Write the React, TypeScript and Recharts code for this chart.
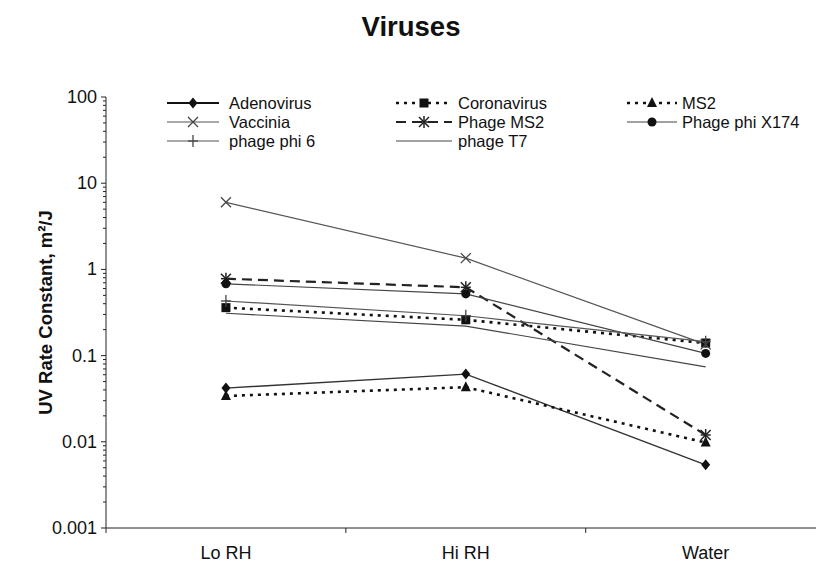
import React from 'react';
import { LineChart, Line, XAxis, YAxis, Legend } from 'recharts';

const categories = ['Lo RH', 'Hi RH', 'Water'];

const adenovirus = [0.042, 0.061, 0.0054];
const coronavirus = [0.36, 0.26, 0.14];
const ms2 = [0.034, 0.043, 0.0098];
const vaccinia = [6.0, 1.35, 0.135];
const phageMS2 = [0.78, 0.62, 0.012];
const phageX174 = [0.68, 0.52, 0.106];
const phagePhi6 = [0.43, 0.29, 0.145];
const phageT7 = [0.31, 0.22, 0.074];

const decades = [0.001, 0.01, 0.1, 1, 10, 100];
const decadeLabels = ['0.001', '0.01', '0.1', '1', '10', '100'];

type Shape = 'diamond' | 'square' | 'triangle' | 'cross' | 'asterisk' | 'circle' | 'plus' | 'none';

interface SeriesDef {
  key: string;
  name: string;
  values: number[];
  shape: Shape;
  stroke: string;
  width: number;
  dash?: string;
}

const series: SeriesDef[] = [
  { key: 'adenovirus', name: 'Adenovirus', values: adenovirus, shape: 'diamond', stroke: '#333', width: 1.4 },
  { key: 'coronavirus', name: 'Coronavirus', values: coronavirus, shape: 'square', stroke: '#111', width: 2.6, dash: '3 5' },
  { key: 'ms2', name: 'MS2', values: ms2, shape: 'triangle', stroke: '#111', width: 2.6, dash: '3 5' },
  { key: 'vaccinia', name: 'Vaccinia', values: vaccinia, shape: 'cross', stroke: '#555', width: 1.2 },
  { key: 'phageMS2', name: 'Phage MS2', values: phageMS2, shape: 'asterisk', stroke: '#222', width: 2.2, dash: '10 6' },
  { key: 'phageX174', name: 'Phage phi X174', values: phageX174, shape: 'circle', stroke: '#444', width: 1.2 },
  { key: 'phagePhi6', name: 'phage phi 6', values: phagePhi6, shape: 'plus', stroke: '#555', width: 1.2 },
  { key: 'phageT7', name: 'phage T7', values: phageT7, shape: 'none', stroke: '#444', width: 1.2 },
];

const data = categories.map((name, i) => {
  const row: Record<string, number | string> = { x: i, name };
  series.forEach((s) => {
    row[s.key] = s.values[i];
  });
  return row;
});

const yTicks: number[] = [];
decades.forEach((d, i) => {
  yTicks.push(d);
  if (i < decades.length - 1) {
    for (let m = 2; m <= 9; m++) yTicks.push(d * m);
  }
});

const FONT = '"Liberation Sans", Arial, Helvetica, sans-serif';

const Marker = ({ shape, cx, cy }: { shape: Shape; cx: number; cy: number }) => {
  switch (shape) {
    case 'diamond':
      return <polygon points={`${cx},${cy - 5.5} ${cx + 4.5},${cy} ${cx},${cy + 5.5} ${cx - 4.5},${cy}`} fill="#111" />;
    case 'square':
      return <rect x={cx - 4.5} y={cy - 4.5} width={9} height={9} fill="#111" />;
    case 'triangle':
      return <polygon points={`${cx},${cy - 6} ${cx + 5},${cy + 4} ${cx - 5},${cy + 4}`} fill="#111" />;
    case 'circle':
      return <circle cx={cx} cy={cy} r={4.5} fill="#111" />;
    case 'cross':
      return (
        <g stroke="#444" strokeWidth={1.3}>
          <line x1={cx - 5} y1={cy - 5} x2={cx + 5} y2={cy + 5} />
          <line x1={cx - 5} y1={cy + 5} x2={cx + 5} y2={cy - 5} />
        </g>
      );
    case 'asterisk':
      return (
        <g stroke="#222" strokeWidth={1.5}>
          <line x1={cx - 5} y1={cy - 5} x2={cx + 5} y2={cy + 5} />
          <line x1={cx - 5} y1={cy + 5} x2={cx + 5} y2={cy - 5} />
          <line x1={cx - 5} y1={cy} x2={cx + 5} y2={cy} />
          <line x1={cx} y1={cy - 6} x2={cx} y2={cy + 6} />
        </g>
      );
    case 'plus':
      return (
        <g stroke="#444" strokeWidth={1.3}>
          <line x1={cx} y1={cy - 6} x2={cx} y2={cy + 6} />
          <line x1={cx - 5} y1={cy} x2={cx + 5} y2={cy} />
        </g>
      );
    default:
      return null;
  }
};

const XTick = (props: any) => {
  const { x, y, payload } = props;
  const v = payload.value as number;
  if (Number.isInteger(v)) {
    return (
      <text x={x} y={y + 31} textAnchor="middle" fontSize={18} fontFamily={FONT} fill="#111">
        {categories[v]}
      </text>
    );
  }
  return <line x1={x} x2={x} y1={y} y2={y + 5} stroke="#222" />;
};

const YTick = (props: any) => {
  const { x, y, payload } = props;
  const v = payload.value as number;
  const idx = decades.findIndex((d) => Math.abs(d - v) / d < 1e-6);
  if (idx >= 0) {
    return (
      <g>
        <line x1={x - 5} x2={x} y1={y} y2={y} stroke="#222" />
        <text x={x - 9} y={y} dy={6} textAnchor="end" fontSize={18} fontFamily={FONT} fill="#111">
          {decadeLabels[idx]}
        </text>
      </g>
    );
  }
  return <line x1={x - 3} x2={x} y1={y} y2={y} stroke="#222" />;
};

const legendCols = [
  { x1: 7, x2: 59, tx: 69 },
  { x1: 236, x2: 292, tx: 298 },
  { x1: 467, x2: 517, tx: 522 },
];
const legendRows = [10, 29, 48];

const LegendBox = () => (
  <svg width={660} height={60} style={{ display: 'block' }}>
    {series.map((s, i) => {
      const c = legendCols[i % 3];
      const y = legendRows[Math.floor(i / 3)];
      const mid = (c.x1 + c.x2) / 2;
      return (
        <g key={s.key}>
          <line
            x1={c.x1}
            x2={c.x2}
            y1={y}
            y2={y}
            stroke={s.key === 'adenovirus' ? '#111' : s.stroke}
            strokeWidth={s.key === 'adenovirus' ? 2 : s.width}
            strokeDasharray={s.dash}
          />
          <Marker shape={s.shape} cx={mid} cy={y} />
          <text x={c.tx} y={y} dy={5.5} fontSize={16.5} fontFamily={FONT} fill="#111">
            {s.name}
          </text>
        </g>
      );
    })}
  </svg>
);

const YLabel = (props: any) => {
  const vb = props.viewBox || { x: 0, y: 97, width: 106, height: 431 };
  const cx = vb.x + 46;
  const cy = vb.y + vb.height / 2;
  return (
    <text
      transform={`translate(${cx},${cy}) rotate(-90)`}
      textAnchor="middle"
      dy={6}
      fontSize={18.5}
      fontWeight="bold"
      fontFamily={FONT}
      fill="#111"
    >
      UV Rate Constant, m²/J
    </text>
  );
};

export default function App() {
  return (
    <div style={{ position: 'absolute', left: 0, top: 0, width: 822, height: 566, background: '#fff' }}>
      <div
        style={{
          position: 'absolute',
          left: 0,
          top: 10,
          width: 822,
          textAlign: 'center',
          fontFamily: FONT,
          fontWeight: 'bold',
          fontSize: 27.5,
          lineHeight: '34px',
          color: '#111',
        }}
      >
        Viruses
      </div>
      <LineChart width={822} height={566} data={data} margin={{ top: 97, right: 6, bottom: 0, left: 0 }}>
        <XAxis
          dataKey="x"
          type="number"
          domain={[-0.5, 2.46]}
          ticks={[-0.5, 0, 0.5, 1, 1.5, 2]}
          interval={0}
          tickLine={false}
          tickSize={0}
          tickMargin={0}
          tick={<XTick />}
          height={38}
          axisLine={{ stroke: '#222' }}
          allowDataOverflow
        />
        <YAxis
          scale="log"
          type="number"
          domain={[0.001, 100]}
          ticks={yTicks}
          interval={0}
          tickLine={false}
          tickSize={0}
          tickMargin={0}
          tick={<YTick />}
          width={106}
          axisLine={{ stroke: '#222' }}
          allowDataOverflow
          label={{ content: (p: any) => <YLabel {...p} /> }}
        />
        <Legend
          layout="horizontal"
          verticalAlign="middle"
          align="center"
          wrapperStyle={{ left: 160, top: 93, width: 660, height: 60 }}
          content={() => <LegendBox />}
        />
        {series.map((s) => (
          <Line
            key={s.key}
            type="linear"
            dataKey={s.key}
            name={s.name}
            stroke={s.stroke}
            strokeWidth={s.width}
            strokeDasharray={s.dash}
            dot={
              s.shape === 'none'
                ? false
                : (p: any) => <Marker key={`${s.key}-${p.index}`} shape={s.shape} cx={p.cx} cy={p.cy} />
            }
            activeDot={false}
            isAnimationActive={false}
          />
        ))}
      </LineChart>
    </div>
  );
}
